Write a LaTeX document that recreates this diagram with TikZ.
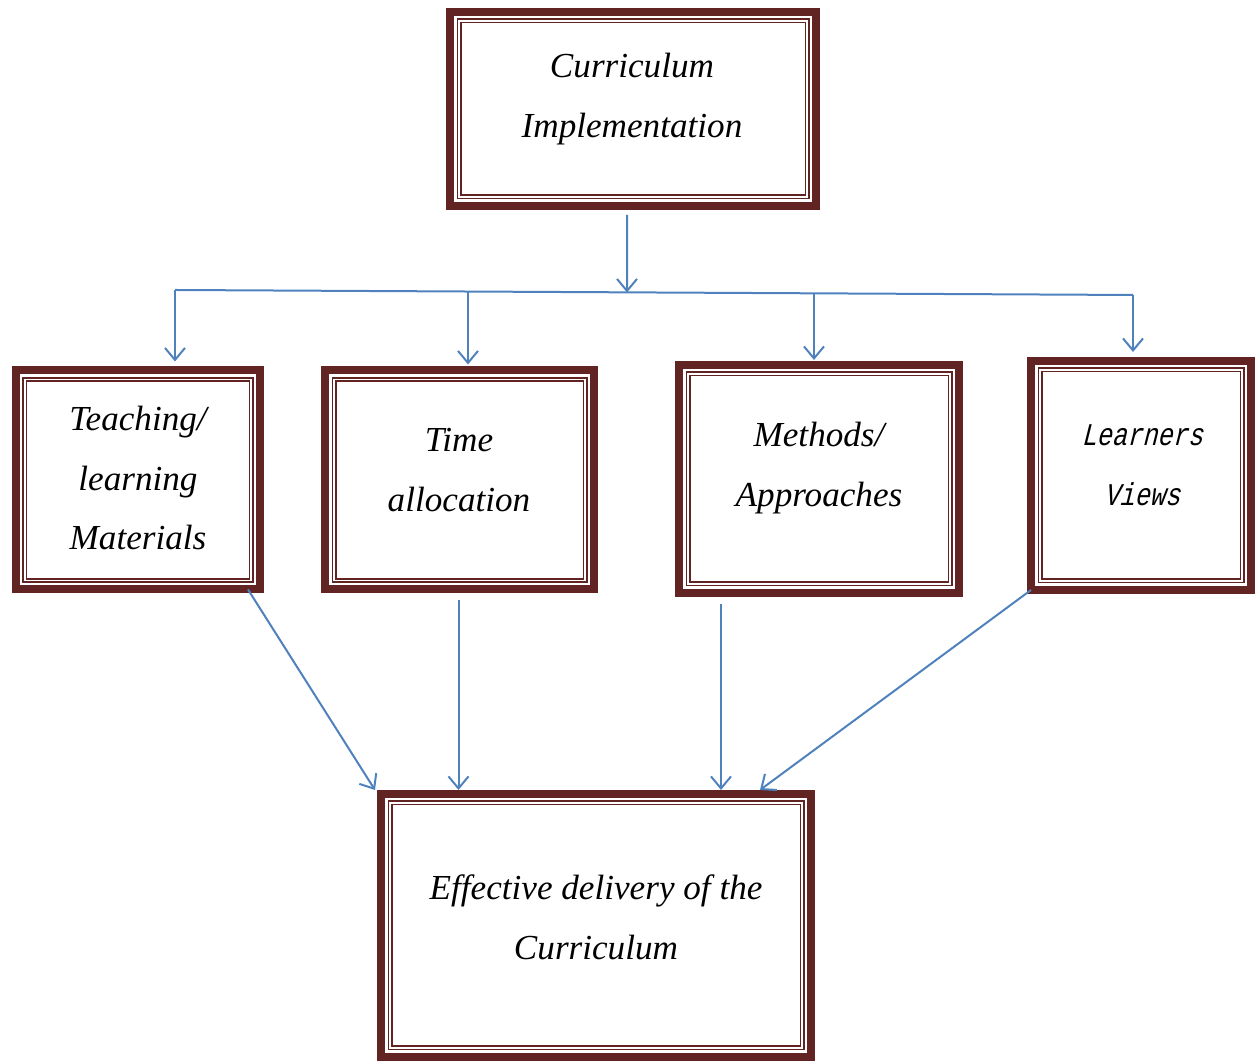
\documentclass[tikz,border=0pt]{standalone}
\usepackage{fontspec}
\setmainfont{Liberation Serif}
\newfontfamily\monofam[FakeStretch=0.8,FakeSlant=0.25]{Liberation Mono}
\usetikzlibrary{arrows.meta,calc}
\definecolor{boxred}{RGB}{98,36,35}
\definecolor{arrblue}{RGB}{79,129,189}

\begin{document}
\begin{tikzpicture}[box/.style={draw=boxred,line width=0.16cm,outer sep=0pt,inner sep=0pt},
  inner/.style={draw=boxred,line width=0.035cm,double=white,double distance=0.03cm},
  boxtext/.style={align=center,font=\itshape\fontsize{20}{34}\selectfont},
  learntext/.style={align=center,font=\monofam\fontsize{18}{34}\selectfont},
  arr/.style={draw=arrblue,line width=0.04cm,-{Straight Barb[length=0.24cm,width=0.4cm]}},
  bar/.style={draw=arrblue,line width=0.04cm}]

  \useasboundingbox (0,0) rectangle (25.14,21.22);

  \node[box,minimum width=7.32cm,minimum height=3.88cm] (impl) at (12.66,19.04) {};
  \node[boxtext] (impltext) at (12.64,19.24) {Curriculum\\Implementation};

  \node[box,minimum width=4.88cm,minimum height=4.38cm] (teach) at (2.76,11.62) {};
  \node[boxtext] (teachtext) at (2.76,11.66) {Teaching/\\learning\\Materials};
  \node[box,minimum width=5.38cm,minimum height=4.38cm] (time) at (9.19,11.62) {};
  \node[boxtext] (timetext) at (9.18,11.82) {Time\\allocation};
  \node[box,minimum width=5.60cm,minimum height=4.56cm] (meth) at (16.38,11.64) {};
  \node[boxtext] (methtext) at (16.38,11.86) {Methods/\\Approaches};
  \node[box,minimum width=4.40cm,minimum height=4.58cm] (learn) at (22.82,11.71) {};
  \node[learntext] (learnertext) at (22.84,11.92) {Learners\\Views};

  \node[box,minimum width=8.60cm,minimum height=5.26cm] (deliv) at (11.92,2.71) {};
  \node[boxtext] (delivtext) at (11.92,2.88) {Effective delivery of the\\Curriculum};

  \foreach \b in {impl,teach,time,meth,learn,deliv}
    \draw[inner] ($(\b.south west)+(0.18,0.18)$) rectangle ($(\b.north east)-(0.18,0.18)$);

  \coordinate (barL) at (3.50,15.42);
  \coordinate (barR) at (22.66,15.32);
  \coordinate (split) at (12.54,15.37);
  \coordinate (tdrop) at (9.36,15.39);
  \coordinate (mdrop) at (16.28,15.35);

  \draw[arr,shorten <=0.18cm] ([xshift=-0.12cm]impl.south) -- (split);
  \draw[bar] (barL) -- (barR);
  \draw[arr,shorten >=0.18cm] (barL) -- (barL |- teach.north);
  \draw[arr,shorten >=0.12cm] (tdrop) -- (tdrop |- time.north);
  \draw[arr,shorten >=0.10cm] (mdrop) -- (mdrop |- meth.north);
  \draw[arr,shorten >=0.18cm] (barR) -- (barR |- learn.north);

  \draw[arr] ([xshift=-0.24cm]teach.south east) -- ([xshift=-0.12cm,yshift=0.08cm]deliv.north west);
  \draw[arr,shorten <=0.22cm,shorten >=0.08cm] ([xshift=-0.02cm]time.south) -- ([xshift=-0.02cm]time.south |- deliv.north);
  \draw[arr,shorten <=0.22cm,shorten >=0.08cm] ([xshift=-1.96cm]meth.south) -- ([xshift=-1.96cm]meth.south |- deliv.north);
  \draw[arr] (learn.south west) -- ([xshift=-1.02cm,yshift=0.08cm]deliv.north east);

\end{tikzpicture}
\end{document}
